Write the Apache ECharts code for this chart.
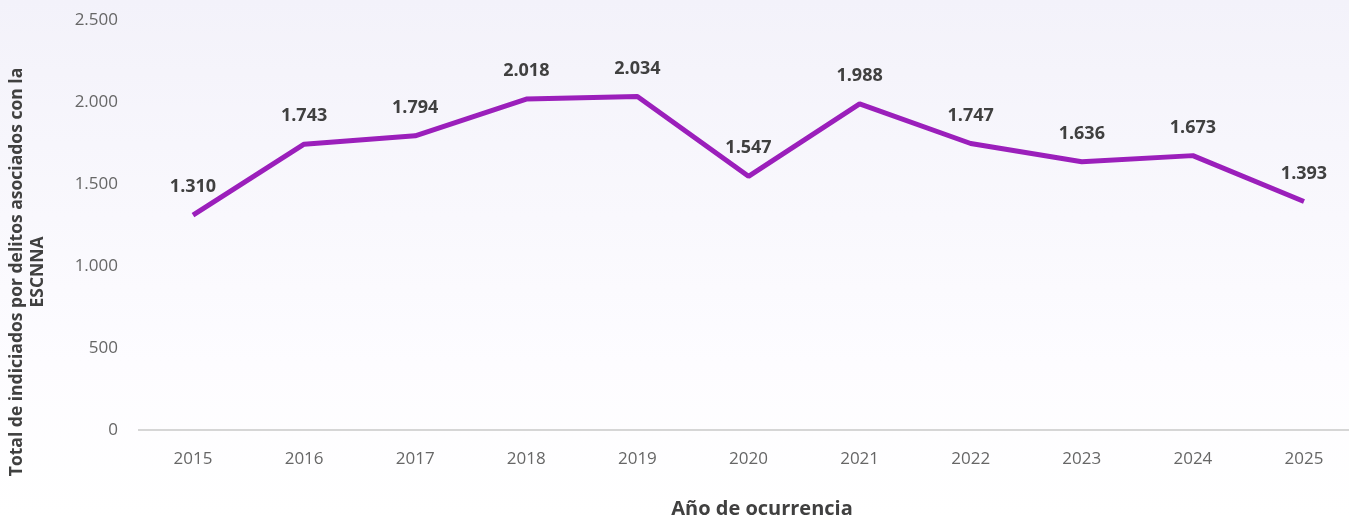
<!DOCTYPE html>
<html><head><meta charset="utf-8">
<script src="https://cdn.jsdelivr.net/npm/echarts@6/dist/echarts.min.js"></script>
<style>html,body{margin:0;padding:0;background:#fff}#c{width:1349px;height:517px}</style>
</head><body><div id="c"></div>
<script>
const years = ['2015','2016','2017','2018','2019','2020','2021','2022','2023','2024','2025'];
const values = [1310, 1743, 1794, 2018, 2034, 1547, 1988, 1747, 1636, 1673, 1393];
const yTicks = [0, 500, 1000, 1500, 2000, 2500];
const fmt = v => String(v).replace(/\B(?=(\d{3})+(?!\d))/g, '.');
const chart = echarts.init(document.getElementById('c'));
const font = '"Open Sans", "Noto Sans", sans-serif';
chart.setOption({
  backgroundColor: {type:'linear', x:0, y:0, x2:0, y2:1, colorStops:[
    {offset:0, color:'#f3f2fa'}, {offset:0.7, color:'#fdfcff'}, {offset:1, color:'#ffffff'}]},
  textStyle: {fontFamily: font},
  grid: {left: 193, top: 20, right: 45, height: 410, containLabel: false},
  xAxis: {
    type: 'category', data: years, boundaryGap: false,
    axisLine: {show: false}, axisTick: {show: false},
    axisLabel: {color: '#666', fontSize: 17, margin: 21, fontFamily: font}
  },
  yAxis: {
    type: 'value', min: yTicks[0], max: yTicks[yTicks.length-1], interval: 500,
    splitLine: {show: false}, axisLine: {show: false}, axisTick: {show: false},
    axisLabel: {color: '#666', fontSize: 17, margin: 75, fontFamily: font, formatter: v => fmt(v)}
  },
  graphic: [
    {type: 'line', shape: {x1: 138, y1: 430, x2: 1349, y2: 430}, z: 1,
     style: {stroke: '#d6d6d6', lineWidth: 2}},
    {type: 'text', x: 28, y: 272, rotation: Math.PI/2,
     style: {text: 'Total de indiciados por delitos asociados con la\nESCNNA', fill: '#404040',
       font: 'bold 17.5px ' + font, textAlign: 'center', textVerticalAlign: 'middle', lineHeight: 21}},
    {type: 'text', x: 762, y: 509,
     style: {text: 'Año de ocurrencia', fill: '#404040', font: 'bold 20px ' + font,
       textAlign: 'center', textVerticalAlign: 'middle'}}
  ],
  series: [{
    type: 'line', data: values, showSymbol: true, symbol: 'circle', symbolSize: 0,
    z: 5,
    lineStyle: {color: '#9b1fbb', width: 5}, itemStyle: {color: '#9b1fbb'},
    label: {show: true, position: 'top', distance: 19, color: '#404040', fontWeight: 'bold',
      fontSize: 18, fontFamily: font, formatter: p => fmt(p.value)}
  }]
});
</script></body></html>
